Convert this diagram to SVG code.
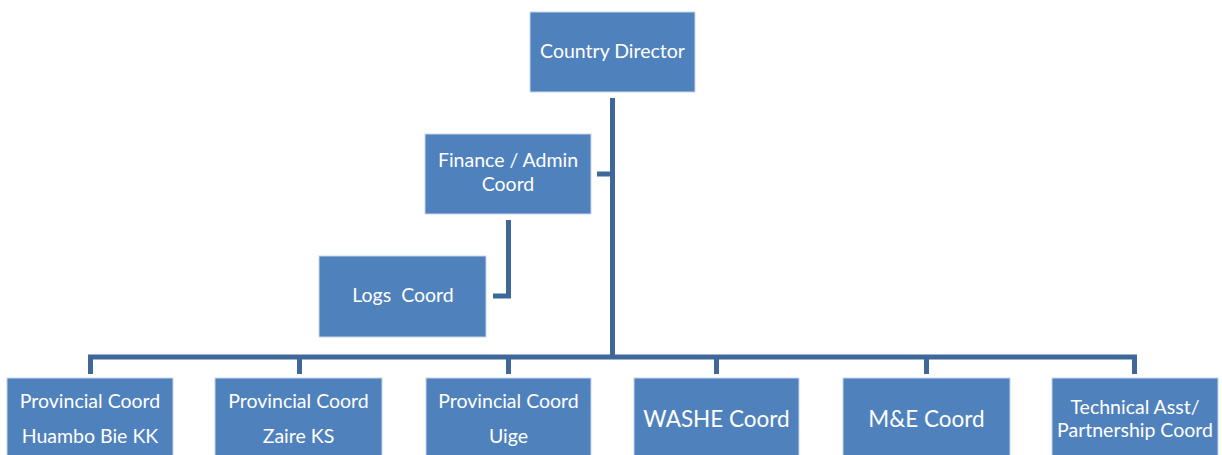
<svg xmlns="http://www.w3.org/2000/svg" width="1222" height="455" viewBox="0 0 1222 455">
<style>
.box{fill:#4F81BD;stroke:#C6D6EA;stroke-width:1}
.t{font-family:Lato,"Open Sans","Liberation Sans",sans-serif;fill:#FFFFFF;text-anchor:middle;font-size:19.5px}
.big{font-size:22.5px}
.c{fill:none;stroke:#3D6899;stroke-width:5}
</style>
<rect width="1222" height="455" fill="#FFFFFF"/>
<g id="connectors">
<path class="c" d="M612.5 98 V357" stroke-width="6"/>
<path class="c" d="M597 174 H612"/>
<path class="c" d="M508.5 220 V296 H493"/>
<path class="c" d="M90.5 374 V357 H1134.5 V374"/>
<path class="c" d="M299.5 357 V374 M508.5 357 V374 M716.5 357 V374 M926.5 357 V374"/>
</g>
<g id="country-director">
<rect class="box" x="530" y="12" width="165" height="80"/>
<text class="t" x="612.5" y="58">Country Director</text>
</g>
<g id="finance-admin">
<rect class="box" x="425" y="134" width="166" height="80"/>
<text class="t" x="508" y="167">Finance / Admin</text>
<text class="t" x="508" y="191">Coord</text>
</g>
<g id="logs">
<rect class="box" x="319" y="256" width="167" height="81"/>
<text class="t" x="403" y="302" xml:space="preserve">Logs  Coord</text>
</g>
<g id="prov-huambo">
<rect class="box" x="7" y="378" width="166" height="82"/>
<text class="t" x="90" y="408">Provincial Coord</text>
<text class="t" x="90" y="443">Huambo Bie KK</text>
</g>
<g id="prov-zaire">
<rect class="box" x="215" y="378" width="167" height="82"/>
<text class="t" x="298.5" y="408">Provincial Coord</text>
<text class="t" x="298.5" y="443">Zaire KS</text>
</g>
<g id="prov-uige">
<rect class="box" x="426" y="378" width="165" height="82"/>
<text class="t" x="508.5" y="408">Provincial Coord</text>
<text class="t" x="508.5" y="443">Uige</text>
</g>
<g id="washe">
<rect class="box" x="634" y="378" width="165" height="82"/>
<text class="t big" x="716.5" y="427">WASHE Coord</text>
</g>
<g id="me">
<rect class="box" x="843" y="378" width="167" height="82"/>
<text class="t big" x="926.5" y="427">M&amp;E Coord</text>
</g>
<g id="technical">
<rect class="box" x="1052" y="378" width="166" height="82"/>
<text class="t" x="1135" y="414">Technical Asst/</text>
<text class="t" x="1135" y="437">Partnership Coord</text>
</g>
</svg>
